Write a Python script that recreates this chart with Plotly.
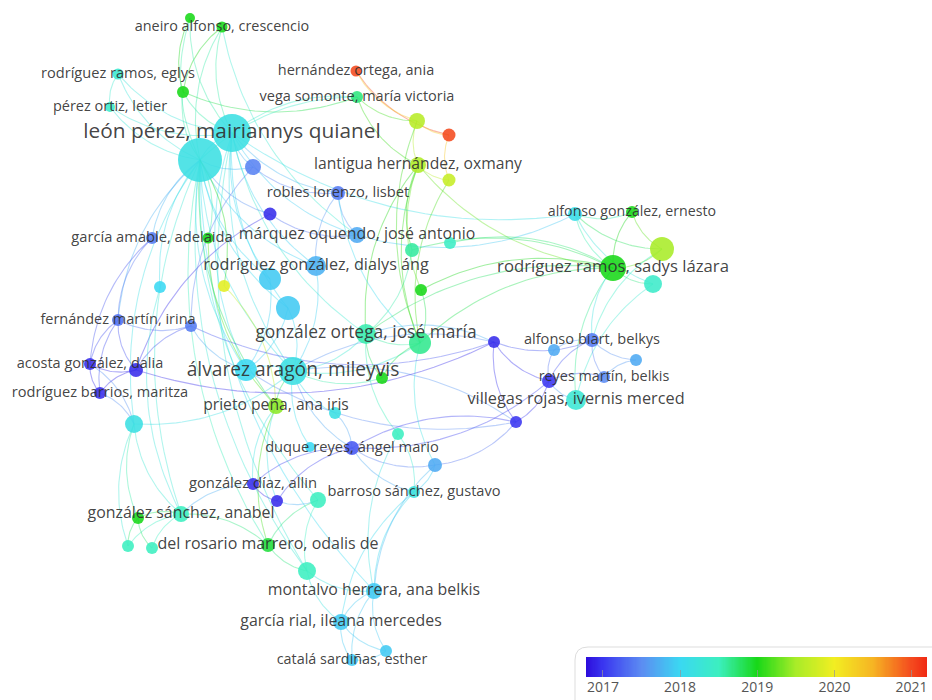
import plotly.graph_objects as go
import numpy as np

# ---------------- data ----------------
labels = [
    "aneiro alfonso, crescencio", "", "rodríguez ramos, eglys", "", "pérez ortiz, letier",
    "hernández ortega, ania", "vega somonte, maría victoria", "león pérez, mairiannys quianel", "", "",
    "", "", "lantigua hernández, oxmany", "", "robles lorenzo, lisbet",
    "", "garcía amable, adelaida", "", "márquez oquendo, josé antonio", "",
    "", "rodríguez gonzález, dialys áng", "", "", "",
    "", "", "", "alfonso gonzález, ernesto", "rodríguez ramos, sadys lázara",
    "", "", "fernández martín, irina", "", "gonzález ortega, josé maría",
    "", "", "alfonso biart, belkys", "", "",
    "acosta gonzález, dalia", "", "álvarez aragón, mileyvis", "", "",
    "reyes martín, belkis", "", "rodríguez barrios, maritza", "villegas rojas, ivernis merced", "",
    "prieto peña, ana iris", "", "", "", "duque reyes, ángel mario",
    "", "", "gonzález díaz, allin", "", "barroso sánchez, gustavo",
    "", "gonzález sánchez, anabel", "", "del rosario marrero, odalis de", "",
    "", "", "montalvo herrera, ana belkis", "garcía rial, ileana mercedes", "catalá sardiñas, esther",
    "",
]
node_x = [222, 190, 118, 183, 110, 356, 357, 232, 200, 253,
          417, 449, 418, 449, 338, 270, 152, 208, 357, 412,
          450, 316, 270, 224, 160, 421, 288, 575, 632, 613,
          662, 653, 118, 191, 366, 420, 494, 592, 554, 636,
          90, 136, 293, 246, 382, 604, 549, 100, 576, 516,
          276, 335, 134, 398, 352, 310, 435, 253, 277, 414,
          318, 181, 138, 268, 128, 152, 307, 374, 341, 352,
          386]
node_y = [27, 18, 74, 92, 107, 71, 97, 133, 160, 167,
          121, 135, 165, 180, 193, 214, 238, 238, 235, 250,
          243, 266, 279, 286, 287, 290, 308, 214, 212, 268,
          249, 284, 320, 326, 334, 343, 342, 340, 350, 360,
          364, 370, 371, 370, 378, 377, 381, 393, 400, 422,
          406, 413, 424, 434, 448, 447, 465, 484, 501, 492,
          500, 514, 518, 545, 546, 548, 571, 591, 622, 660,
          651]
node_size = [11, 10, 11, 12, 10, 11, 12, 38, 44, 16,
             16, 13, 16, 13, 14, 13, 12, 11, 16, 14,
             12, 20, 22, 12, 12, 12, 24, 14, 12, 26,
             24, 18, 12, 12, 20, 22, 12, 14, 12, 12,
             12, 14, 28, 22, 12, 12, 14, 12, 20, 12,
             16, 12, 18, 12, 14, 10, 14, 12, 12, 12,
             16, 16, 12, 14, 12, 12, 18, 16, 16, 12,
             12]
node_year = [2019.0, 2019.0, 2018.35, 2019.0, 2018.4, 2021.0, 2018.7, 2018.15, 2018.15, 2017.45,
             2019.6, 2021.0, 2019.55, 2019.7, 2017.4, 2016.95, 2017.4, 2019.0, 2017.7, 2018.6,
             2018.45, 2017.75, 2017.9, 2019.9, 2018.0, 2019.0, 2017.9, 2018.1, 2019.0, 2019.0,
             2019.5, 2018.4, 2017.35, 2017.4, 2018.55, 2018.65, 2016.95, 2017.4, 2017.7, 2017.7,
             2016.95, 2016.95, 2018.15, 2018.0, 2019.0, 2017.5, 2017.0, 2016.95, 2018.3, 2017.0,
             2019.4, 2018.15, 2018.15, 2018.5, 2017.2, 2018.0, 2017.7, 2016.95, 2016.95, 2018.2,
             2018.5, 2018.5, 2019.0, 2018.9, 2018.5, 2018.5, 2018.5, 2017.9, 2017.9, 2017.9,
             2017.9]
label_size = [14.4, 0, 14.6, 0, 14.5, 14.5, 14.5, 20.8, 0, 0,
              0, 0, 15.7, 0, 14.7, 0, 14.7, 0, 15.9, 0,
              0, 16.2, 0, 0, 0, 0, 0, 0, 14.2, 16.7,
              0, 0, 14.5, 0, 17.4, 0, 0, 14.6, 0, 0,
              14.5, 0, 19.2, 0, 0, 14.4, 0, 14.6, 16.3, 0,
              15.7, 0, 0, 0, 14.7, 0, 0, 14.8, 0, 14.6,
              0, 15.9, 0, 16.0, 0, 0, 0, 15.9, 15.9, 14.4,
              0]

edges = [
    (0, 8), (0, 7), (0, 3), (0, 18), (1, 8), (1, 3), (1, 7),
    (2, 7), (2, 8), (2, 4), (3, 7), (3, 8), (3, 6), (4, 8), (4, 7),
    (5, 11), (10, 11), (11, 13), (5, 10),
    (6, 7), (6, 8), (6, 10), (6, 12),
    (7, 8), (7, 9), (7, 14), (7, 18), (7, 21), (7, 22), (7, 26), (7, 42), (7, 43), (7, 34), (7, 27),
    (8, 9), (8, 15), (8, 16), (8, 21), (8, 22), (8, 24), (8, 26), (8, 42), (8, 43), (8, 32),
    (8, 52), (8, 50), (8, 61), (8, 63), (8, 66), (8, 67), (7, 66), (8, 60),
    (12, 13), (10, 12), (12, 19), (12, 25), (12, 34), (12, 35), (12, 29), (13, 35), (10, 35),
    (14, 18), (9, 14), (14, 35), (14, 21),
    (27, 28), (27, 29), (27, 30), (27, 31), (28, 29), (28, 30), (29, 30), (29, 31),
    (29, 19), (29, 35), (29, 48), (29, 37), (30, 37), (31, 48), (18, 27), (29, 34), (29, 20), (29, 25),
    (36, 34), (36, 46), (36, 49), (36, 42), (37, 38), (37, 39), (37, 45), (37, 46), (38, 46),
    (39, 45), (45, 46), (46, 48), (49, 46), (49, 54), (49, 42), (36, 37),
    (32, 33), (32, 40), (32, 41), (32, 47), (40, 41), (40, 47), (41, 47), (33, 41), (33, 43),
    (16, 32), (16, 40), (15, 41), (9, 33),
    (52, 47), (52, 40), (52, 42), (52, 62), (52, 61),
    (42, 43), (42, 34), (42, 35), (42, 26), (42, 21), (42, 50), (42, 51), (42, 44), (42, 54),
    (42, 55), (43, 26), (43, 22),
    (34, 35), (34, 44), (34, 19), (34, 53), (35, 44), (35, 25), (35, 56),
    (50, 57), (50, 23), (50, 58), (50, 63),
    (54, 56), (54, 57), (54, 58), (54, 59), (54, 51),
    (57, 58), (57, 61), (58, 60),
    (59, 67), (59, 56), (59, 53), (59, 68),
    (60, 63), (60, 66), (61, 62), (61, 64), (61, 65), (62, 64), (62, 65), (63, 66), (63, 61),
    (66, 67), (67, 68), (67, 69), (67, 70), (68, 69), (68, 70), (69, 70), (66, 68),
    (53, 67), (56, 67), (52, 64), (24, 61), (17, 8), (17, 50), (23, 8),
    (41, 36), (43, 49), (54, 46), (56, 49), (33, 36), (15, 18),
]

tick_years = [2017, 2018, 2019, 2020, 2021]
scale_years = [2016.78, 2017.0, 2017.5, 2018.0, 2018.5, 2019.0, 2019.5, 2020.0, 2020.5, 2021.0, 2021.2]
scale_colors = ["#2c0cdc", "#3a36f0", "#5c8cf2", "#3ad8f2", "#3cefc0", "#18d818",
                "#a8ec28", "#f2ee22", "#f6b423", "#f44a1e", "#f02a14"]

# ---------------- helpers ----------------
cmin, cmax = scale_years[0], scale_years[-1]
colorscale = [[(yv - cmin) / (cmax - cmin), c] for yv, c in zip(scale_years, scale_colors)]


def hex2rgb(h):
    h = h.lstrip("#")
    return [int(h[i:i + 2], 16) for i in (0, 2, 4)]


def year_color(yv, alpha):
    yv = min(max(yv, cmin), cmax)
    for i in range(len(scale_years) - 1):
        if scale_years[i] <= yv <= scale_years[i + 1]:
            t = (yv - scale_years[i]) / (scale_years[i + 1] - scale_years[i])
            a, b = hex2rgb(scale_colors[i]), hex2rgb(scale_colors[i + 1])
            r = [round(a[k] + (b[k] - a[k]) * t) for k in range(3)]
            return f"rgba({r[0]},{r[1]},{r[2]},{alpha})"
    return f"rgba(0,0,0,{alpha})"


fig = go.Figure()

# edges as curved lines
tt = np.linspace(0, 1, 30)
for s, d in edges:
    x0, y0, x1, y1 = node_x[s], node_y[s], node_x[d], node_y[d]
    mx, my = (x0 + x1) / 2, (y0 + y1) / 2
    dx, dy = x1 - x0, y1 - y0
    cx, cy = mx - dy * 0.2, my + dx * 0.2
    bx = (1 - tt) ** 2 * x0 + 2 * (1 - tt) * tt * cx + tt ** 2 * x1
    by = (1 - tt) ** 2 * y0 + 2 * (1 - tt) * tt * cy + tt ** 2 * y1
    col = year_color((node_year[s] + node_year[d]) / 2, 0.4)
    fig.add_trace(go.Scatter(x=bx, y=by, mode="lines", line=dict(color=col, width=1.1),
                             hoverinfo="skip", showlegend=False))

# nodes
fig.add_trace(go.Scatter(
    x=node_x, y=node_y, mode="markers", showlegend=False, hoverinfo="skip",
    marker=dict(size=node_size, color=node_year, colorscale=colorscale, cmin=cmin, cmax=cmax,
                opacity=0.88, line=dict(width=0), showscale=False),
))

# labels
lab_idx = [i for i, l in enumerate(labels) if l]
fig.add_trace(go.Scatter(
    x=[node_x[i] for i in lab_idx], y=[node_y[i] for i in lab_idx],
    text=[labels[i] for i in lab_idx], mode="text", textposition="middle center",
    textfont=dict(size=[label_size[i] for i in lab_idx], color="rgba(45,45,45,0.9)",
                  family="Open Sans"),
    hoverinfo="skip", showlegend=False))

# colour legend bar (heatmap on its own axes)
bar_x = np.linspace(cmin, cmax, 300)
fig.add_trace(go.Heatmap(x=bar_x, y=[0], z=[bar_x], colorscale=colorscale, zmin=cmin, zmax=cmax,
                         showscale=False, hoverinfo="skip", xaxis="x2", yaxis="y2"))

fig.update_layout(
    width=932, height=700, margin=dict(l=0, r=0, t=0, b=0),
    paper_bgcolor="white", plot_bgcolor="white",
    xaxis=dict(range=[0, 932], visible=False, fixedrange=True, domain=[0, 1]),
    yaxis=dict(range=[700, 0], visible=False, fixedrange=True, domain=[0, 1]),
    xaxis2=dict(domain=[586 / 932, 927 / 932], anchor="y2", range=[cmin, cmax],
                tickvals=tick_years, ticktext=[str(t) for t in tick_years],
                ticks="inside", ticklen=7, tickcolor="rgba(150,150,150,0.7)", tickwidth=1,
                showgrid=False, zeroline=False, showline=False, fixedrange=True,
                tickfont=dict(size=14, color="#555", family="Open Sans")),
    yaxis2=dict(domain=[(700 - 677) / 700, (700 - 657) / 700], anchor="x2", visible=False,
                fixedrange=True),
    shapes=[dict(type="path", xref="x", yref="y",
                 path="M 575,705 L 575,660 Q 575,647 588,647 L 940,647",
                 line=dict(color="#dddddd", width=1))],
)

fig.write_html("out.html", config={"displayModeBar": False},
               post_script="document.body.style.margin='0';document.body.style.overflow='hidden';")
